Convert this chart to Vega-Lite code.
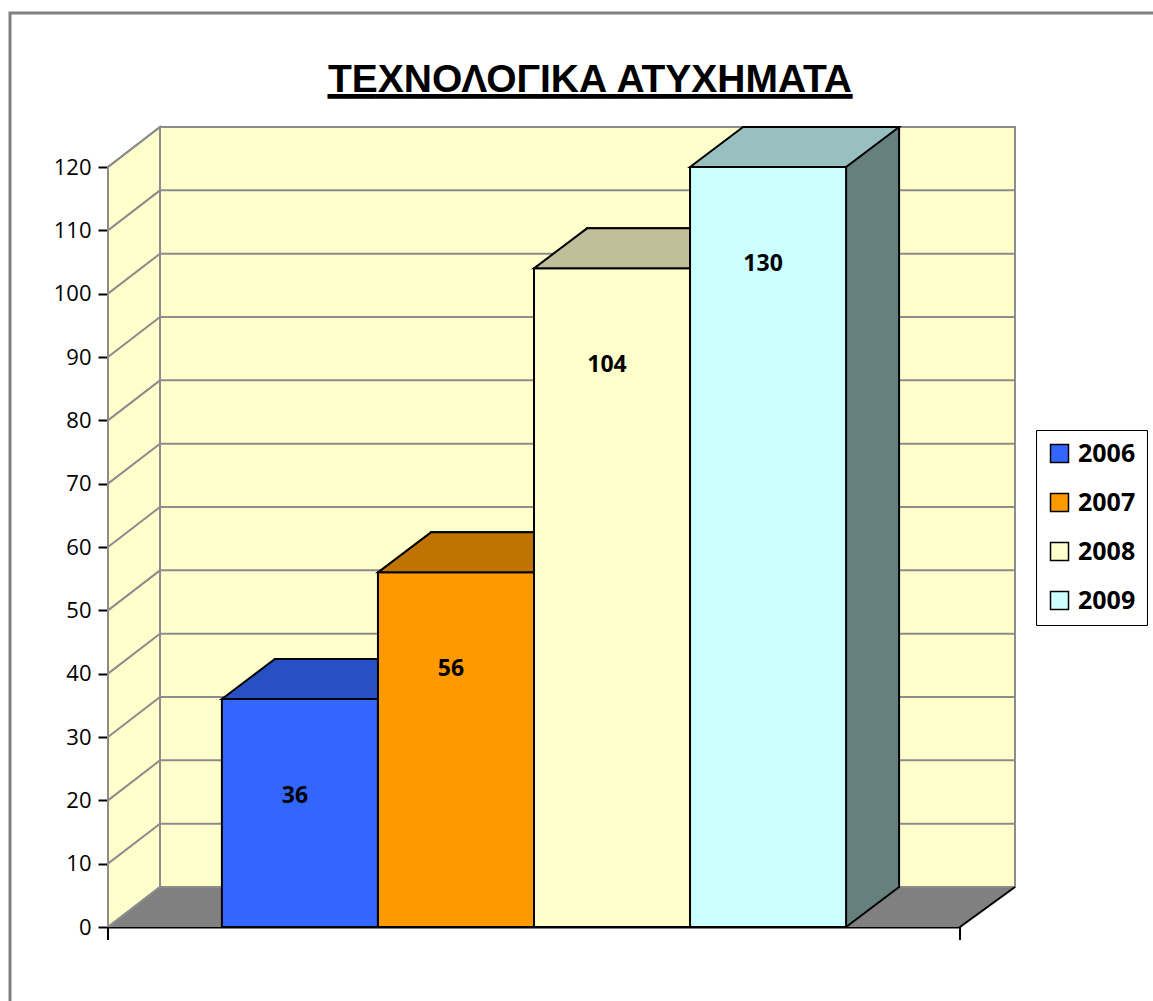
{
  "$schema": "https://vega.github.io/schema/vega-lite/v6.json",
  "width": 852,
  "height": 760,
  "autosize": {"type": "none"},
  "padding": {"left": 108, "top": 167, "right": 193, "bottom": 74},
  "background": "white",
  "config": {
    "view": {"stroke": null},
    "font": "Open Sans",
    "axisX": {"labels": false, "ticks": false, "grid": false, "domainColor": "black", "domainWidth": 2, "zindex": 1},
    "axisY": {"grid": false, "tickCount": 12, "tickSize": 10, "tickWidth": 2, "tickColor": "black", "domainColor": "black", "domainWidth": 2, "labelFont": "Open Sans", "labelFontSize": 22, "labelColor": "black", "labelPadding": 7, "zindex": 1}
  },
  "title": {
    "text": "ΤΕΧΝΟΛΟΓΙΚΑ ΑΤΥΧΗΜΑΤΑ",
    "subtitle": "▁▁▁▁▁▁▁▁▁▁▁▁▁▁▁▁▁▁▁▁▁▁",
    "font": "Liberation Sans",
    "fontSize": 39,
    "fontWeight": "bold",
    "color": "black",
    "subtitleFont": "DejaVu Sans",
    "subtitleFontSize": 31,
    "subtitleColor": "black",
    "subtitlePadding": -33,
    "frame": "group",
    "anchor": "middle",
    "dx": 56,
    "offset": -93
  },
  "datasets": {
    "bars": [
      {"year": "2006", "value": 36},
      {"year": "2007", "value": 56},
      {"year": "2008", "value": 104},
      {"year": "2009", "value": 130}
    ],
    "base": [{"level": 0}],
    "grid": [
      {"v": 0}, {"v": 10}, {"v": 20}, {"v": 30}, {"v": 40}, {"v": 50}, {"v": 60},
      {"v": 70}, {"v": 80}, {"v": 90}, {"v": 100}, {"v": 110}, {"v": 120}
    ]
  },
  "layer": [
    {
      "data": {"name": "base"},
      "mark": {"type": "point", "shape": "M -524 74 V -914 H 619", "size": 4, "filled": false, "stroke": "#808080", "strokeWidth": 3, "opacity": 1},
      "encoding": {"y": {"field": "level", "type": "quantitative", "title": null, "scale": {"domain": [0, 120], "clamp": true, "nice": false}}}
    },
    {
      "data": {"name": "base"},
      "mark": {"type": "point", "shape": "M -374 -40 H 481 V -800 H -374 Z M -426 0 L -374 -40 V -800 L -426 -760 Z", "size": 4, "filled": true, "fill": "#FFFFCC", "stroke": "#8c8c8c", "strokeWidth": 2, "opacity": 1},
      "encoding": {"y": {"field": "level", "type": "quantitative", "title": null}}
    },
    {
      "data": {"name": "base"},
      "mark": {"type": "point", "shape": "M -426 0 H 426 L 481 -40 H -374 Z", "size": 4, "filled": true, "fill": "#808080", "strokeWidth": 0, "opacity": 1},
      "encoding": {"y": {"field": "level", "type": "quantitative", "title": null}}
    },
    {
      "data": {"name": "grid"},
      "mark": {"type": "point", "shape": "M -426 0 L -374 -40 H 481", "size": 4, "filled": false, "stroke": "#8c8c8c", "strokeWidth": 2, "opacity": 1},
      "encoding": {"y": {"field": "v", "type": "quantitative", "title": null}}
    },
    {
      "data": {"name": "base"},
      "mark": {"type": "point", "shape": "M -426 13 V 0 M 426 13 V 0 L 481 -40", "size": 4, "filled": false, "stroke": "black", "strokeWidth": 2, "opacity": 1},
      "encoding": {"y": {"field": "level", "type": "quantitative", "title": null}}
    },
    {
      "data": {"name": "bars"},
      "mark": {"type": "bar", "xOffset": 53, "x2Offset": 53, "yOffset": -40, "y2Offset": -40, "stroke": "black", "strokeWidth": 2},
      "encoding": {
        "x": {"field": "year", "type": "nominal", "title": null, "scale": {"paddingInner": 0, "paddingOuter": 0.73}},
        "y": {"field": "value", "type": "quantitative", "title": null},
        "color": {"field": "year", "type": "nominal", "legend": null, "scale": {"domain": ["2006", "2007", "2008", "2009"], "range": ["#1A3380", "#804D00", "#808066", "#668080"]}}
      }
    },
    {
      "data": {"name": "bars"},
      "mark": {"type": "point", "shape": "M 78 0 L 131 -40 L 130 -41.5 L 78 -41.5 Z", "size": 4, "filled": true, "strokeWidth": 0, "opacity": 1},
      "encoding": {
        "x": {"field": "year", "type": "nominal", "title": null},
        "y": {"datum": 0, "type": "quantitative"},
        "color": {"field": "year", "type": "nominal", "legend": null, "scale": {"domain": ["2006", "2007", "2008", "2009"], "range": ["#1A3380", "#804D00", "#808066", "#668080"]}}
      }
    },
    {
      "data": {"name": "bars"},
      "mark": {"type": "point", "shape": "M 78 0 L 131 -40", "size": 4, "filled": false, "stroke": "black", "strokeWidth": 2, "opacity": 1},
      "encoding": {
        "x": {"field": "year", "type": "nominal", "title": null},
        "y": {"datum": 0, "type": "quantitative"}
      }
    },
    {
      "data": {"name": "bars"},
      "mark": {"type": "bar", "stroke": "black", "strokeWidth": 2},
      "encoding": {
        "x": {"field": "year", "type": "nominal", "title": null},
        "y": {"field": "value", "type": "quantitative", "title": null},
        "color": {
          "field": "year", "type": "nominal",
          "scale": {"domain": ["2006", "2007", "2008", "2009"], "range": ["#3366FF", "#FF9900", "#FFFFCC", "#CCFFFF"]},
          "legend": {
            "orient": "none", "legendX": 928, "legendY": 263, "direction": "vertical",
            "title": null, "strokeColor": "black", "fillColor": "white", "padding": 11,
            "symbolType": "square", "symbolSize": 324, "symbolStrokeColor": "black", "symbolStrokeWidth": 1.5,
            "labelFont": "Open Sans", "labelFontWeight": "bold", "labelFontSize": 25, "labelColor": "black",
            "rowPadding": 23, "labelOffset": 6
          }
        }
      }
    },
    {
      "data": {"name": "bars"},
      "mark": {"type": "point", "size": 4, "filled": true, "stroke": "black", "strokeWidth": 2, "opacity": 1},
      "encoding": {
        "x": {"field": "year", "type": "nominal", "title": null},
        "y": {"field": "value", "type": "quantitative", "title": null},
        "shape": {"field": "year", "type": "nominal", "legend": null, "scale": {"domain": ["2006", "2007", "2008", "2009"], "range": ["M -78 0 L -25 -40 L 78 -40 L 78 0 Z", "M -78 0 L -25 -40 L 78 -40 L 78 0 Z", "M -78 0 L -25 -40 L 78 -40 L 78 0 Z", "M -78 0 L -25 -40 L 131 -40 L 78 0 Z"]}},
        "color": {"field": "year", "type": "nominal", "legend": null, "scale": {"domain": ["2006", "2007", "2008", "2009"], "range": ["#2650C4", "#BF7300", "#BFBF99", "#99C0C0"]}}
      }
    },
    {
      "data": {"name": "bars"},
      "mark": {"type": "text", "font": "Open Sans", "fontWeight": "bold", "fontSize": 23, "color": "black", "baseline": "middle", "dy": 97, "dx": -5},
      "encoding": {
        "x": {"field": "year", "type": "nominal", "title": null},
        "y": {"field": "value", "type": "quantitative", "title": null},
        "text": {"field": "value", "type": "quantitative"}
      }
    }
  ],
  "resolve": {"scale": {"color": "independent", "shape": "independent"}}
}
